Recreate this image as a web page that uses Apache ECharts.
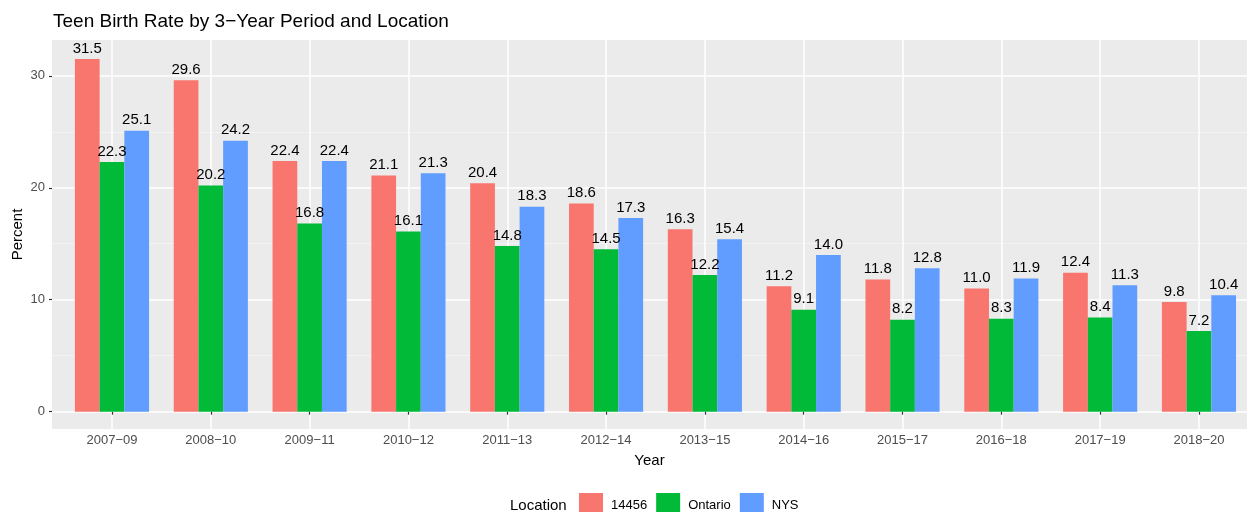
<!DOCTYPE html>
<html>
<head>
<meta charset="utf-8">
<script src="https://cdn.jsdelivr.net/npm/echarts@6/dist/echarts.min.js"></script>
<style>
  html, body { margin: 0; padding: 0; background: #ffffff; }
  #chart { width: 1248px; height: 512px; }
</style>
</head>
<body>
<div id="chart"></div>
<script>
// Three-year periods shown on the x axis
const periods = ['2007\u221209', '2008\u221210', '2009\u221211', '2010\u221212', '2011\u221213', '2012\u221214',
                 '2013\u221215', '2014\u221216', '2015\u221217', '2016\u221218', '2017\u221219', '2018\u221220'];

// Teen birth rate (percent) per location
const locations = ['14456', 'Ontario', 'NYS'];
const rate14456   = [31.5, 29.6, 22.4, 21.1, 20.4, 18.6, 16.3, 11.2, 11.8, 11.0, 12.4, 9.8];
const rateOntario = [22.3, 20.2, 16.8, 16.1, 14.8, 14.5, 12.2, 9.1, 8.2, 8.3, 8.4, 7.2];
const rateNYS     = [25.1, 24.2, 22.4, 21.3, 18.3, 17.3, 15.4, 14.0, 12.8, 11.9, 11.3, 10.4];

// Axis breaks
const yBreaks = [0, 10, 20, 30];
const yMinorBreaks = [5, 15, 25];

const palette = ['#F8766D', '#00BA38', '#619CFF'];
const seriesValues = [rate14456, rateOntario, rateNYS];
const periodPositions = periods.map((_, i) => i + 1);

const yMin = -1.55, yMax = 33.2;
const font = 'Liberation Sans, Arial, sans-serif';

const chart = echarts.init(document.getElementById('chart'), null, { renderer: 'canvas' });

const option = {
  animation: false,
  backgroundColor: '#ffffff',
  textStyle: { fontFamily: font },
  title: [
    {
      text: 'Teen Birth Rate by 3\u2212Year Period and Location',
      left: 53, top: 12, padding: 0,
      textStyle: { fontSize: 19, fontWeight: 'normal', color: '#000000', fontFamily: font }
    },
    {
      text: 'Location',
      left: 510, top: 498, padding: 0,
      textStyle: { fontSize: 15, fontWeight: 'normal', color: '#000000', fontFamily: font }
    }
  ],
  legend: {
    data: locations,
    left: 579, top: 493,
    padding: 0,
    itemWidth: 24, itemHeight: 24,
    itemGap: 9,
    icon: 'rect',
    textStyle: { fontSize: 13, color: '#000000', padding: [0, 0, 0, 3], fontFamily: font }
  },
  grid: {
    left: 52, right: 1, top: 40, bottom: 83,
    show: true, backgroundColor: '#EBEBEB', borderWidth: 0,
    containLabel: false,
    outerBoundsMode: 'none'
  },
  xAxis: {
    type: 'value',
    min: 0.393, max: 12.486,
    name: 'Year',
    nameLocation: 'middle',
    nameGap: 24,
    nameTextStyle: { fontSize: 15, color: '#000000' },
    axisLine: { show: false },
    axisTick: { show: true, customValues: periodPositions, length: 3, lineStyle: { color: '#333333', width: 1.2 } },
    axisLabel: {
      customValues: periodPositions,
      formatter: v => periods[Math.round(v) - 1],
      fontSize: 13, color: '#4D4D4D', margin: 5
    },
    splitLine: { show: true, lineStyle: { color: '#ffffff', width: 1.5 } }
  },
  yAxis: [
    {
      type: 'value',
      min: yMin, max: yMax,
      name: 'Percent',
      nameLocation: 'middle',
      nameGap: 27,
      nameRotate: 90,
      nameMoveOverlap: false,
      nameTextStyle: { fontSize: 15, color: '#000000' },
      axisLine: { show: false },
      axisTick: { show: true, customValues: yBreaks, length: 3, lineStyle: { color: '#333333', width: 1.2 } },
      axisLabel: { customValues: yBreaks, fontSize: 13, color: '#4D4D4D', margin: 7 },
      splitLine: { show: true, lineStyle: { color: '#ffffff', width: 1.5 } }
    },
    {
      type: 'value',
      min: yMin, max: yMax,
      position: 'left',
      axisLine: { show: false },
      axisTick: { show: false, customValues: yMinorBreaks },
      axisLabel: { show: false, customValues: yMinorBreaks },
      splitLine: { show: true, lineStyle: { color: '#F7F7F7', width: 0.7 } }
    }
  ],
  series: locations.map((name, k) => ({
    name: name,
    type: 'bar',
    xAxisIndex: 0,
    yAxisIndex: 0,
    data: seriesValues[k].map((v, i) => [periodPositions[i], v]),
    barWidth: '25%',
    barGap: '0%',
    itemStyle: { color: palette[k] },
    label: {
      show: true,
      position: 'top',
      distance: 3,
      formatter: p => p.value[1].toFixed(1),
      fontSize: 15,
      color: '#000000'
    }
  }))
};

chart.setOption(option);
</script>
</body>
</html>
